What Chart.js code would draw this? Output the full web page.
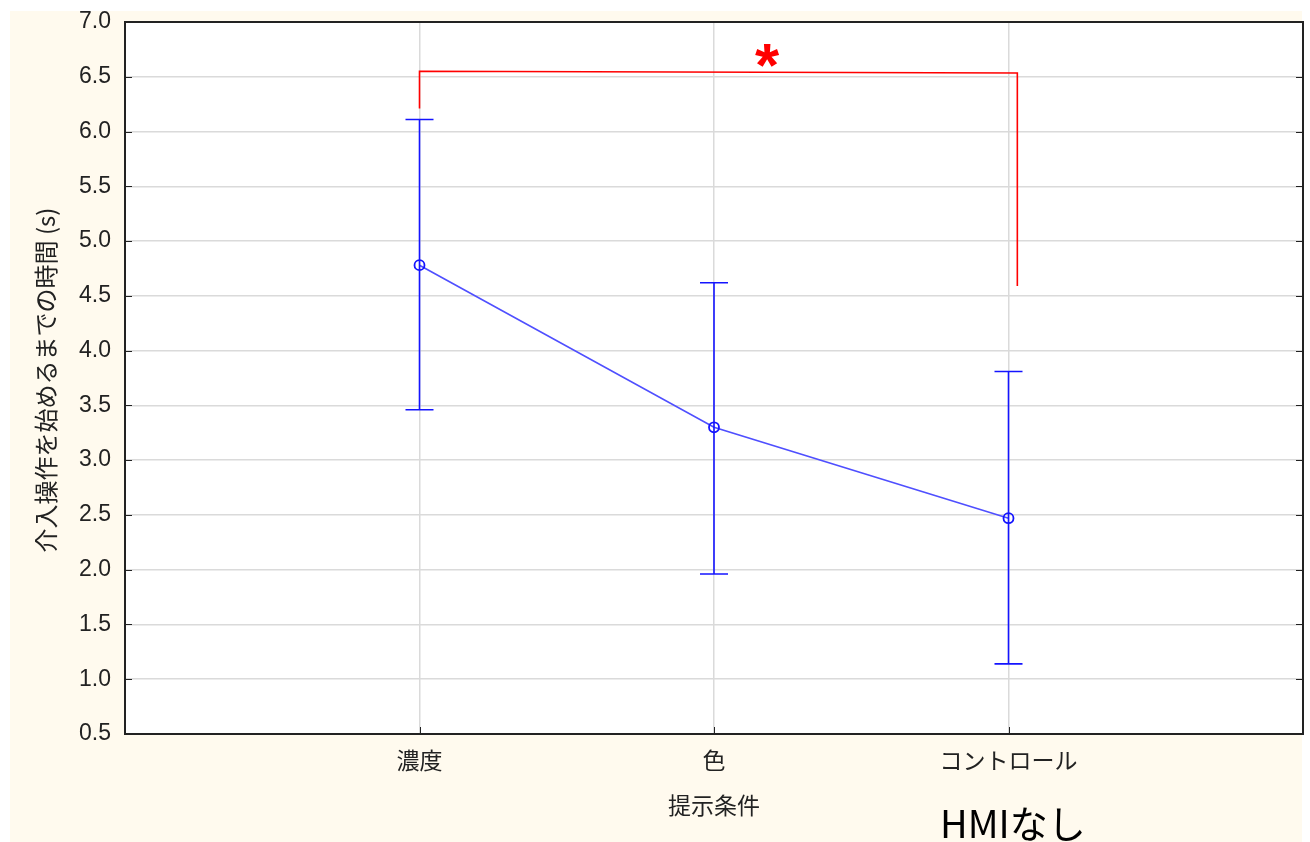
<!DOCTYPE html>
<html>
<head>
<meta charset="utf-8">
<script src="https://cdn.jsdelivr.net/npm/chart.js@4.4.1/dist/chart.umd.min.js"></script>
<style>
html,body{margin:0;padding:0;background:#ffffff;}
#wrap{position:relative;width:1310px;height:842px;}
</style>
</head>
<body>
<div id="wrap"><canvas id="c" width="1310" height="842"></canvas></div>
<script>
// ---- data ----
const categories = ['濃度', '色', 'コントロール'];
const means = [4.78, 3.30, 2.47];
const upper = [6.11, 4.62, 3.81];
const lower = [3.46, 1.96, 1.14];
const yTicks = [0.5,1.0,1.5,2.0,2.5,3.0,3.5,4.0,4.5,5.0,5.5,6.0,6.5,7.0];
const bracketX = [1, 1, 3.03, 3.03];
const bracketY = [6.21, 6.55, 6.535, 4.59];
const starPos = {x: 2.18, y: 6.70};
const xTitle = '提示条件';
const yTitle = '介入操作を始めるまでの時間 (s)';
const noteText = 'HMIなし';

const FONT = '"Noto Sans CJK JP", "Liberation Sans", sans-serif';

const decorPlugin = {
  id: 'decor',
  beforeDraw(chart) {
    const ctx = chart.ctx, a = chart.chartArea;
    ctx.save();
    ctx.fillStyle = '#ffffff';
    ctx.fillRect(0, 0, chart.width, chart.height);
    ctx.fillStyle = '#fffaee';
    ctx.fillRect(10, 11, 1292, 831);
    ctx.fillStyle = '#ffffff';
    ctx.fillRect(a.left, a.top, a.right - a.left, a.bottom - a.top);
    ctx.restore();
  },
  afterDatasetsDraw(chart) {
    const ctx = chart.ctx, xs = chart.scales.x, ys = chart.scales.y;
    ctx.save();
    // error bars
    ctx.strokeStyle = '#1414ff';
    ctx.lineWidth = 1.6;
    for (let i = 0; i < categories.length; i++) {
      const px = xs.getPixelForValue(i + 1);
      const pt = ys.getPixelForValue(upper[i]);
      const pb = ys.getPixelForValue(lower[i]);
      ctx.beginPath();
      ctx.moveTo(px, pt); ctx.lineTo(px, pb);
      ctx.moveTo(px - 14, pt); ctx.lineTo(px + 14, pt);
      ctx.moveTo(px - 14, pb); ctx.lineTo(px + 14, pb);
      ctx.stroke();
    }
    // star
    ctx.fillStyle = '#ff0000';
    ctx.font = 'bold 62px "Liberation Sans", sans-serif';
    ctx.textAlign = 'center';
    ctx.textBaseline = 'middle';
    ctx.fillText('*', xs.getPixelForValue(starPos.x), ys.getPixelForValue(starPos.y) + 14);
    ctx.restore();
  },
  afterDraw(chart) {
    const ctx = chart.ctx, a = chart.chartArea, ys = chart.scales.y, xs = chart.scales.x;
    ctx.save();
    // frame
    ctx.strokeStyle = '#222222';
    ctx.lineWidth = 2;
    ctx.strokeRect(a.left, a.top, a.right - a.left, a.bottom - a.top);
    // inner tick marks
    ctx.lineWidth = 1;
    ctx.beginPath();
    yTicks.forEach(v => {
      const py = Math.round(ys.getPixelForValue(v)) + 0.5;
      ctx.moveTo(a.left, py); ctx.lineTo(a.left + 7, py);
      ctx.moveTo(a.right - 7, py); ctx.lineTo(a.right, py);
    });
    for (let i = 1; i <= categories.length; i++) {
      const px = Math.round(xs.getPixelForValue(i)) + 0.5;
      ctx.moveTo(px, a.bottom); ctx.lineTo(px, a.bottom - 7);
    }
    ctx.stroke();
    // titles
    ctx.fillStyle = '#222222';
    ctx.textAlign = 'center';
    ctx.textBaseline = 'middle';
    ctx.font = '23px ' + FONT;
    ctx.fillText(xTitle, xs.getPixelForValue(2), 805);
    ctx.save();
    ctx.translate(46, 380);
    ctx.rotate(-Math.PI / 2);
    ctx.font = '24px ' + FONT;
    ctx.fillText(yTitle, 0, 0);
    ctx.restore();
    // note
    ctx.fillStyle = '#000000';
    ctx.textAlign = 'left';
    ctx.textBaseline = 'alphabetic';
    ctx.font = '38px ' + FONT;
    ctx.fillText(noteText, 940, 838);
    ctx.restore();
  }
};

new Chart(document.getElementById('c'), {
  type: 'line',
  data: {
    datasets: [
      {
        data: means.map((m, i) => ({x: i + 1, y: m})),
        borderColor: '#4f4fff',
        borderWidth: 1.6,
        pointRadius: 5,
        pointBorderWidth: 1.8,
        pointBorderColor: '#1414ff',
        pointBackgroundColor: 'rgba(255,255,255,0)',
        tension: 0
      },
      {
        data: bracketX.map((x, i) => ({x: x, y: bracketY[i]})),
        borderColor: '#ff0000',
        borderWidth: 1.6,
        pointRadius: 0,
        tension: 0
      }
    ]
  },
  options: {
    responsive: false,
    animation: false,
    devicePixelRatio: 1,
    layout: {padding: {left: 0, top: 22, right: 7, bottom: 0}},
    plugins: {legend: {display: false}, tooltip: {enabled: false}},
    scales: {
      x: {
        type: 'linear', min: 0, max: 4,
        afterBuildTicks(s) { s.ticks = categories.map((c, i) => ({value: i + 1})); },
        afterFit(s) { s.height = 108; s.paddingLeft = 0; s.paddingRight = 0; },
        ticks: {
          callback: (v) => categories[v - 1] || '',
          color: '#222222',
          font: {family: FONT, size: 23},
          padding: 12,
          maxRotation: 0, autoSkip: false
        },
        grid: {color: '#dadada', lineWidth: 1.5, drawTicks: false},
        border: {color: '#222222', width: 2}
      },
      y: {
        type: 'linear', min: 0.5, max: 7.0,
        afterBuildTicks(s) { s.ticks = yTicks.map(v => ({value: v})); },
        afterFit(s) { s.width = 125; s.paddingTop = 0; s.paddingBottom = 0; },
        ticks: {
          callback: (v) => v.toFixed(1),
          color: '#222222',
          font: {family: '"Liberation Sans", sans-serif', size: 23},
          padding: 14
        },
        grid: {color: '#dadada', lineWidth: 1.5, drawTicks: false},
        border: {color: '#222222', width: 2}
      }
    }
  },
  plugins: [decorPlugin]
});
</script>
</body>
</html>
